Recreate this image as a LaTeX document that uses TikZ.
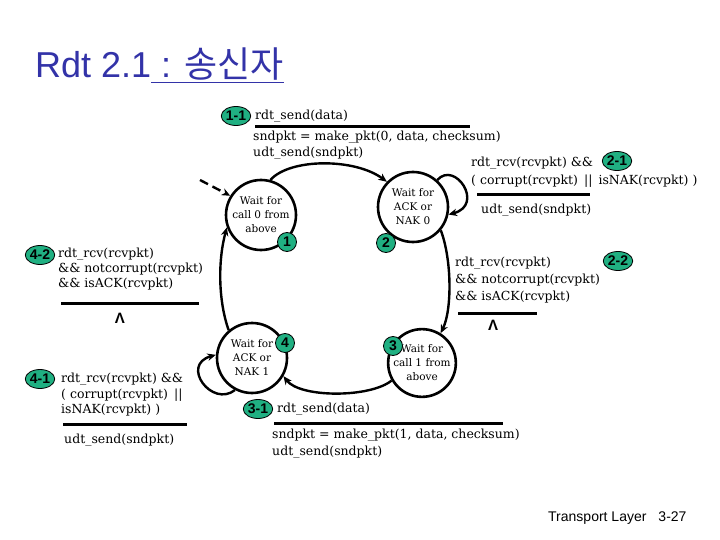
\documentclass[tikz,border=0pt]{standalone}
\usepackage{fontspec}
\usepackage{tikz}
\setmainfont{DejaVu Serif}
\setsansfont{Liberation Sans}
\newfontfamily\krfont{Noto Sans CJK KR}
\usetikzlibrary{arrows.meta,positioning,shapes.geometric}
\definecolor{TitleBlue}{HTML}{3333A8}
\definecolor{Badge}{HTML}{20B082}

\begin{document}
\begin{tikzpicture}[x=1pt,y=-1pt,
    state/.style={circle,draw,line width=2.6pt,minimum size=70pt,inner sep=0pt,align=center,font=\fontsize{10.5}{14}\selectfont},
    badge/.style={ellipse,draw,line width=0.8pt,fill=Badge,inner sep=0.3pt,minimum height=19pt,font=\sffamily\bfseries\fontsize{14}{14}\selectfont},
    lbl/.style={anchor=north west,align=left,inner sep=0pt,font=\fontsize{12.5}{16}\selectfont},
    bar/.style={line width=3pt},
    nil/.style={font=\sffamily\bfseries\fontsize{15}{15}\selectfont},
    a/.style={-{Stealth[length=3mm,width=2.6mm]},line width=2.4pt}]
  \useasboundingbox (0,0) rectangle (720,540);
  \node[anchor=base west,inner sep=0pt,text=TitleBlue,font=\sffamily\fontsize{36}{36}\selectfont] (title) at (35,78) {Rdt 2.1\underline{ : {\krfont 송신자}}};
  % states
  \node[state] (s1) at (261,215) {Wait for\\call 0 from\\above};
  \node[state] (s2) at (413,207) {Wait for\\ACK or\\NAK 0};
  \node[state] (s4) at (252,358) {Wait for\\ACK or\\NAK 1};
  \node[state,minimum size=66pt] (s3) at (422,363) {Wait for\\call 1 from\\above};
  % badges
  \node[badge] (b11) at (236,116) {1-1};
  \node[badge] (b21) at (617,161) {2-1};
  \node[badge] (b22) at (618,261) {2-2};
  \node[badge] (b42) at (40,255) {4-2};
  \node[badge] (b41) at (40,379) {4-1};
  \node[badge] (b31) at (258,409) {3-1};
  \node[badge,circle,minimum size=19pt] (b1) at (287,242) {1};
  \node[badge,circle,minimum size=19pt] (b2) at (386,243) {2};
  \node[badge,circle,minimum size=19pt] (b4) at (285,343) {4};
  \node[badge,circle,minimum size=19pt] (b3) at (393,346) {3};
  % transition labels
  \node[lbl] (send0) at (255,110) {rdt\_send(data)};
  \draw[bar] (255,127) -- (470,127);
  \node[lbl] (act0) at (253,131) {sndpkt = make\_pkt(0, data, checksum)\\udt\_send(sndpkt)};
  \node[lbl,font=\fontsize{12.5}{18}\selectfont] (nak0) at (471,157) {rdt\_rcv(rcvpkt) \&\&\\( corrupt(rcvpkt) \,||\, isNAK(rcvpkt) )};
  \draw[bar] (477,195) -- (590,195);
  \node[lbl] (resend0) at (481,204) {udt\_send(sndpkt)};
  \node[lbl,font=\fontsize{12.5}{17}\selectfont] (ack0) at (455,257) {rdt\_rcv(rcvpkt)\\\&\& notcorrupt(rcvpkt)\\\&\& isACK(rcvpkt)};
  \draw[bar] (458,313) -- (537,313);
  \node[nil] (nil0) at (493,325) {Λ};
  \node[lbl,font=\fontsize{12.5}{15}\selectfont] (ack1) at (58,248) {rdt\_rcv(rcvpkt)\\\&\& notcorrupt(rcvpkt)\\\&\& isACK(rcvpkt)};
  \draw[bar] (61,303) -- (199,303);
  \node[nil] (nil1) at (120,318) {Λ};
  \node[lbl,font=\fontsize{12.5}{15.5}\selectfont] (nak1) at (61,373) {rdt\_rcv(rcvpkt) \&\&\\( corrupt(rcvpkt) \,||\\isNAK(rcvpkt) )};
  \draw[bar] (63,424) -- (187,424);
  \node[lbl] (resend1) at (64,434) {udt\_send(sndpkt)};
  \node[lbl] (send1) at (277,403) {rdt\_send(data)};
  \draw[bar] (274,423) -- (503,423);
  \node[lbl,font=\fontsize{12.5}{17}\selectfont] (act1) at (272,429) {sndpkt = make\_pkt(1, data, checksum)\\udt\_send(sndpkt)};
  % transitions
  \coordinate (init) at (200,180);
  \draw[a,dash pattern=on 9pt off 5pt] (init) -- (s1.148);
  \draw[a] (s1.75) .. controls (290,158) and (355,158) .. (s2.136);
  \draw[a] (s2.48) .. controls (455,160) and (485,205) .. (s2.-12);
  \draw[a] (s2.-40) .. controls (452,260) and (452,310) .. (s3.58);
  \draw[a] (s3.-150) .. controls (370,398) and (300,398) .. (s4.-30);
  \draw[a] (s4.-118) .. controls (212,408) and (180,365) .. (s4.175);
  \draw[a] (s4.130) .. controls (218,300) and (218,260) .. (s1.-160);
  \node[anchor=base west,inner sep=0pt,font=\sffamily\fontsize{14}{14}\selectfont] (footer) at (548,521) {Transport Layer\hspace{12pt}3-27};
\end{tikzpicture}
\end{document}
